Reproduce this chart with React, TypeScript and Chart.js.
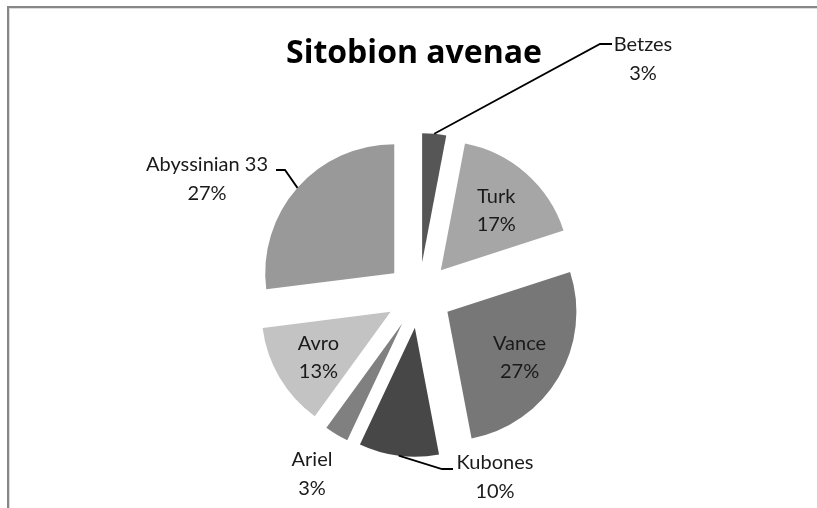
import React, { useEffect, useRef } from "react";
import { Chart, registerables } from "chart.js";

Chart.register(...registerables);

const categories = ["Betzes", "Turk", "Vance", "Kubones", "Ariel", "Avro", "Abyssinian 33"];
const values = [3, 17, 27, 10, 3, 13, 27];
const colors = ["#565656", "#a6a6a6", "#777777", "#474747", "#808080", "#c3c3c3", "#999999"];
const titleText = "Sitobion avenae";

// placement of data labels (layout only)
type LabelPlace = { mode: "in" | "out"; elbow?: number[]; end?: number[]; text?: number[] };
const labelLayout: LabelPlace[] = [
  { mode: "out", elbow: [600, 44], end: [612, 44], text: [643, 45] },
  { mode: "in" },
  { mode: "in" },
  { mode: "out", elbow: [442, 469], end: [453, 469], text: [495, 463] },
  { mode: "out", text: [312, 460] },
  { mode: "in" },
  { mode: "out", elbow: [285, 170], end: [276, 170], text: [207, 165] },
];

const EXPLODE = 33; // px each slice is pulled out of the centre
const LABEL_FONT = "20px Lato, 'Open Sans', sans-serif";
const TITLE_FONT = "bold 32px 'Open Sans', Lato, sans-serif";
const LINE_GAP = 28.5;

const decorPlugin = {
  id: "pieDecor",
  beforeDraw(chart: any) {
    const ctx = chart.ctx;
    ctx.save();
    ctx.fillStyle = "#ffffff";
    ctx.fillRect(0, 0, chart.width, chart.height);
    ctx.fillStyle = "#878787";
    ctx.fillRect(7, 6, chart.width - 7, 2);
    ctx.fillRect(7, 6, 2, chart.height - 6);
    ctx.fillStyle = "#dcdcdc";
    ctx.fillRect(9, 8, chart.width - 9, 1);
    ctx.fillRect(9, 8, 1, chart.height - 8);
    ctx.restore();
  },
  beforeDatasetDraw(chart: any, args: any) {
    args.meta.data.forEach((arc: any) => {
      if (arc.$wrapped) return;
      const orig = arc.draw.bind(arc);
      arc.draw = (ctx: CanvasRenderingContext2D, area: any) => {
        const h = (arc.startAngle + arc.endAngle) / 2;
        ctx.save();
        ctx.translate(Math.cos(h) * EXPLODE, Math.sin(h) * EXPLODE);
        orig(ctx, area);
        ctx.restore();
      };
      arc.$wrapped = true;
    });
  },
  afterDraw(chart: any) {
    const ctx = chart.ctx;
    ctx.save();
    // title
    ctx.fillStyle = "#000000";
    ctx.font = TITLE_FONT;
    ctx.textAlign = "center";
    ctx.textBaseline = "alphabetic";
    ctx.fillText(titleText, 414, 63);

    const meta = chart.getDatasetMeta(0);
    const ds = chart.data.datasets[0].data as number[];
    const total = ds.reduce((a, b) => a + b, 0);
    ctx.font = LABEL_FONT;
    ctx.textBaseline = "middle";
    meta.data.forEach((arc: any, i: number) => {
      const half = (arc.startAngle + arc.endAngle) / 2;
      const r = arc.outerRadius;
      const vx = arc.x + Math.cos(half) * EXPLODE;
      const vy = arc.y + Math.sin(half) * EXPLODE;
      const pct = Math.round((ds[i] / total) * 100) + "%";
      const name = chart.data.labels[i];
      const place = labelLayout[i];
      let tx: number, ty: number;
      if (place.mode === "in") {
        tx = vx + Math.cos(half) * r * 0.65;
        ty = vy + Math.sin(half) * r * 0.65 + 3;
      } else {
        tx = place.text![0];
        ty = place.text![1] + LINE_GAP / 2;
        if (place.elbow && place.end) {
          const ex = vx + Math.cos(half) * r;
          const ey = vy + Math.sin(half) * r;
          ctx.strokeStyle = "#000000";
          ctx.lineWidth = 1.8;
          ctx.beginPath();
          ctx.moveTo(ex, ey);
          ctx.lineTo(place.elbow[0], place.elbow[1]);
          ctx.lineTo(place.end[0], place.end[1]);
          ctx.stroke();
        }
      }
      ctx.fillStyle = "#1a1a1a";
      ctx.fillText(name, tx, ty - LINE_GAP / 2);
      ctx.fillText(pct, tx, ty + LINE_GAP / 2);
    });
    ctx.restore();
  },
};

export default function App() {
  const ref = useRef<HTMLCanvasElement | null>(null);
  useEffect(() => {
    if (!ref.current) return;
    const chart = new Chart(ref.current, {
      type: "pie",
      data: {
        labels: categories,
        datasets: [
          {
            data: values,
            backgroundColor: colors,
            borderWidth: 0,
            hoverOffset: 0,
          } as any,
        ],
      },
      options: {
        responsive: false,
        animation: false,
        radius: 129,
        layout: { padding: { left: 21, right: 0, top: 82, bottom: 0 } },
        plugins: {
          legend: { display: false },
          title: { display: false },
          tooltip: { enabled: false },
        },
        events: [],
      } as any,
      plugins: [decorPlugin],
    });
    return () => chart.destroy();
  }, []);
  return (
    <div style={{ position: "fixed", left: 0, top: 0, width: 817, height: 508, background: "#fff" }}>
      <canvas ref={ref} width={817} height={508} style={{ display: "block" }} />
    </div>
  );
}
